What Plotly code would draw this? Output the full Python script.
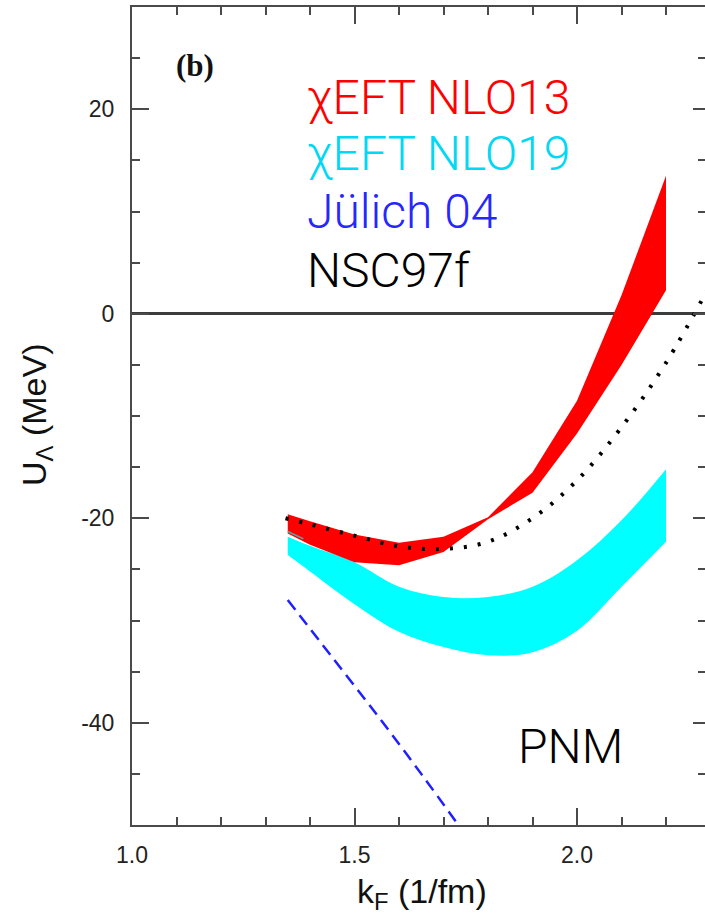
import plotly.graph_objects as go

# ---------------- data ----------------
kF_grid = [1.35, 1.4, 1.5, 1.6, 1.7, 1.8, 1.9, 2.0, 2.1, 2.2]
nlo13_upper = [-19.6, -20.3, -21.6, -22.4, -21.8, -19.9, -15.5, -8.5, 1.8, 13.5]
nlo13_lower = [-21.5, -22.6, -24.3, -24.6, -23.3, -20.1, -17.5, -11.7, -5.0, 2.3]
nlo19_upper = [-21.8, -22.7, -24.3, -26.7, -27.7, -27.7, -26.7, -24.1, -20.2, -15.2]
nlo19_lower = [-23.6, -25.2, -28.4, -31.1, -32.6, -33.4, -33.1, -31.0, -26.7, -22.3]
julich_kF = [1.35, 1.45, 1.55, 1.65, 1.75]
julich_U = [-28.0, -33.6, -39.2, -45.0, -51.0]
nsc_kF = [1.345, 1.4, 1.5, 1.6, 1.7, 1.8, 1.9, 2.0, 2.1, 2.2, 2.3]
nsc_U = [-20.0, -20.6, -21.7, -22.75, -23.0, -22.3, -20.0, -16.3, -11.1, -4.8, 2.9]
edge_kF = [1.35, 1.385]
edge_U = [-21.3, -22.0]

legend_labels = ["χEFT NLO13", "χEFT NLO19", "Jülich 04", "NSC97f"]
legend_colors = ["#ff0000", "#00d8f4", "#2626ff", "#000000"]
y_tickvals = [-40, -20, 0, 20]
y_ticktext = ["-40", "-20", "0", "20"]
x_tickvals = [1.0, 1.5, 2.0]
x_ticktext = ["1.0", "1.5", "2.0"]

# ---------------- geometry ----------------
W, H = 705, 921
ML, MR, MT, MB = 132, 0, 7, 96
PW = W - ML - MR
PH = H - MT - MB
X0 = 1.0
X1 = X0 + PW / 445.0
Y0, Y1 = -50, 30


def px_to_paper_x(p):
    return (p - ML) / PW


def px_to_paper_y(p):
    return (H - MB - p) / PH


fig = go.Figure()

# cyan band (NLO19)
fig.add_trace(go.Scatter(x=kF_grid, y=nlo19_lower, mode="lines",
                         line=dict(width=0, shape="spline", color="#00ffff"),
                         hoverinfo="skip", showlegend=False))
fig.add_trace(go.Scatter(x=kF_grid, y=nlo19_upper, mode="lines",
                         line=dict(width=0, shape="spline", color="#00ffff"),
                         fill="tonexty", fillcolor="#00ffff",
                         hoverinfo="skip", showlegend=False))
# red band (NLO13)
fig.add_trace(go.Scatter(x=kF_grid, y=nlo13_lower, mode="lines",
                         line=dict(width=0, color="#ff0000"),
                         hoverinfo="skip", showlegend=False))
fig.add_trace(go.Scatter(x=kF_grid, y=nlo13_upper, mode="lines",
                         line=dict(width=0, color="#ff0000"),
                         fill="tonexty", fillcolor="#ff0000",
                         hoverinfo="skip", showlegend=False))
# small grey-teal edge
fig.add_trace(go.Scatter(x=edge_kF, y=edge_U, mode="lines",
                         line=dict(width=1.5, color="#5f9ea0"),
                         hoverinfo="skip", showlegend=False))
# NSC97f dotted
fig.add_trace(go.Scatter(x=nsc_kF, y=nsc_U, mode="lines",
                         line=dict(width=4, color="#000000", dash="3px,11px", shape="spline"),
                         hoverinfo="skip", showlegend=False))
# Julich 04 dashed
fig.add_trace(go.Scatter(x=julich_kF, y=julich_U, mode="lines",
                         line=dict(width=2.5, color="#1f1fff", dash="12px,7px", shape="spline"),
                         hoverinfo="skip", showlegend=False))
# invisible trace for right-hand tick axis
fig.add_trace(go.Scatter(x=[X0], y=[0], yaxis="y2", mode="markers",
                         marker=dict(opacity=0), hoverinfo="skip", showlegend=False))

axis_col = "#4a4a4a"
tick_font = dict(family="Liberation Sans, Arial, sans-serif", size=23, color="#222222")
light_font = "Roboto, Liberation Sans, Arial, sans-serif"

fig.update_layout(
    width=W, height=H,
    margin=dict(l=ML, r=MR, t=MT, b=MB, pad=0),
    paper_bgcolor="white", plot_bgcolor="white",
    xaxis=dict(range=[X0, X1], showgrid=False, zeroline=False,
               showline=True, linecolor=axis_col, linewidth=2, mirror="ticks",
               ticks="inside", ticklen=17, tickwidth=1.5, tickcolor=axis_col,
               tickvals=x_tickvals, ticktext=x_ticktext, tickfont=tick_font,
               ticklabelstandoff=8,
               minor=dict(dtick=0.1, tick0=1.0, ticks="inside", ticklen=8,
                          tickwidth=1.5, tickcolor=axis_col, showgrid=False)),
    yaxis=dict(range=[Y0, Y1], showgrid=False,
               zeroline=True, zerolinecolor="#3c3c3c", zerolinewidth=2.5,
               showline=True, linecolor=axis_col, linewidth=2, mirror=False,
               ticks="inside", ticklen=17, tickwidth=1.5, tickcolor=axis_col,
               tickvals=y_tickvals, ticktext=y_ticktext, tickfont=tick_font,
               ticklabelstandoff=11,
               minor=dict(dtick=5, tick0=0, ticks="inside", ticklen=8,
                          tickwidth=1.5, tickcolor=axis_col, showgrid=False)),
    yaxis2=dict(range=[Y0, Y1], overlaying="y", side="right", showgrid=False,
                zeroline=False, showline=False, showticklabels=False,
                ticks="inside", ticklen=12, tickwidth=1.5, tickcolor=axis_col,
                tickvals=y_tickvals,
                minor=dict(dtick=5, tick0=0, ticks="inside", ticklen=7,
                           tickwidth=1.5, tickcolor=axis_col, showgrid=False)),
)

annos = []
# panel label
annos.append(dict(x=px_to_paper_x(194.5), y=px_to_paper_y(65), xref="paper", yref="paper",
                  text="<b>(b)</b>", showarrow=False, xanchor="center", yanchor="middle",
                  font=dict(family="Liberation Serif, Times New Roman, serif", size=31,
                            color="#111111")))
# legend texts
legend_rows_px = [97, 153.7, 212, 270]
for lab, col, ypx in zip(legend_labels, legend_colors, legend_rows_px):
    annos.append(dict(x=px_to_paper_x(305), y=px_to_paper_y(ypx), xref="paper", yref="paper",
                      text=lab, showarrow=False, xanchor="left", yanchor="middle",
                      font=dict(family=light_font, size=48, weight=300, color=col)))
# PNM
annos.append(dict(x=px_to_paper_x(570), y=px_to_paper_y(746.7), xref="paper", yref="paper",
                  text="PNM", showarrow=False, xanchor="center", yanchor="middle",
                  font=dict(family=light_font, size=48, weight=300, color="#000000")))
# axis titles
annos.append(dict(x=px_to_paper_x(422), y=px_to_paper_y(893), xref="paper", yref="paper",
                  text="k<sub>F</sub> (1/fm)", showarrow=False, xanchor="center",
                  yanchor="middle",
                  font=dict(family="Liberation Sans, Arial, sans-serif", size=34,
                            color="#111111")))
annos.append(dict(x=px_to_paper_x(36), y=px_to_paper_y(415), xref="paper", yref="paper",
                  text="U<sub>Λ</sub> (MeV)", showarrow=False, xanchor="center",
                  yanchor="middle", textangle=-90,
                  font=dict(family="Liberation Sans, Arial, sans-serif", size=34,
                            color="#111111")))
fig.update_layout(annotations=annos)

fig.write_html("out.html")
